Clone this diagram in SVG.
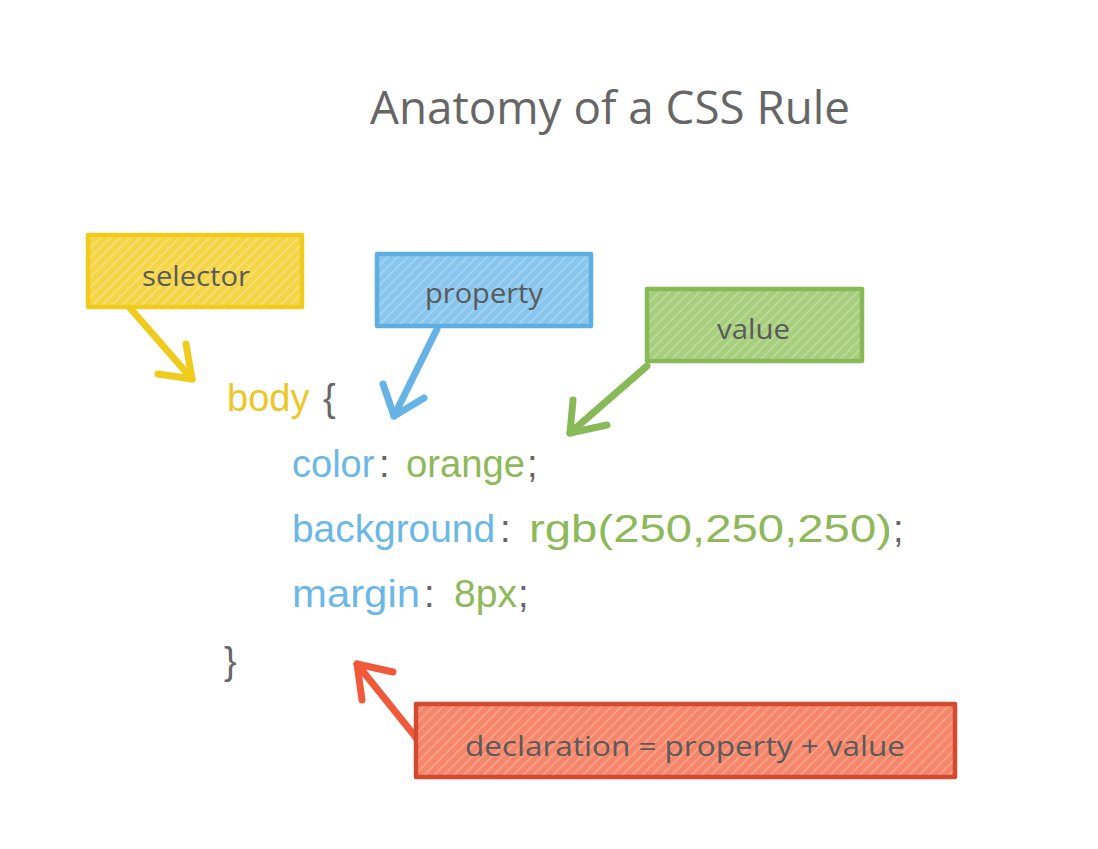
<svg xmlns="http://www.w3.org/2000/svg" width="1098" height="849" viewBox="0 0 1098 849">
<defs>
<pattern id="hy" width="7" height="7" patternUnits="userSpaceOnUse" patternTransform="rotate(45)"><rect width="7" height="7" fill="#F5D545"/><line x1="1" y1="0" x2="1" y2="7" stroke="#F8E17C" stroke-width="1.6"/></pattern>
<pattern id="hb" width="7" height="7" patternUnits="userSpaceOnUse" patternTransform="rotate(45)"><rect width="7" height="7" fill="#88C6EE"/><line x1="1" y1="0" x2="1" y2="7" stroke="#A8D6F3" stroke-width="1.6"/></pattern>
<pattern id="hg" width="7" height="7" patternUnits="userSpaceOnUse" patternTransform="rotate(45)"><rect width="7" height="7" fill="#A7CE7D"/><line x1="1" y1="0" x2="1" y2="7" stroke="#BEDC9C" stroke-width="1.6"/></pattern>
<pattern id="hr" width="7" height="7" patternUnits="userSpaceOnUse" patternTransform="rotate(45)"><rect width="7" height="7" fill="#F6866A"/><line x1="1" y1="0" x2="1" y2="7" stroke="#F9A48F" stroke-width="1.6"/></pattern>
</defs>
<style>
text{font-family:"Open Sans","Liberation Sans",sans-serif}
.lbl{font-size:27px;fill:#5a5a5a}
.code{font-size:38px;font-family:"Liberation Sans",Arial,sans-serif}
.y{fill:#EBC72A}.b{fill:#6BB7E6}.g{fill:#8DB95A}.k{fill:#666}
.box{stroke-width:4.5;stroke-linejoin:round}
.arr{fill:none;stroke-width:7;stroke-linecap:round;stroke-linejoin:round}
</style>
<rect width="1098" height="849" fill="#ffffff"/>
<text x="370" y="124" font-size="46" fill="#666" textLength="480" lengthAdjust="spacingAndGlyphs">Anatomy of a CSS Rule</text>

<g id="code">
<text class="code y" x="227" y="411">body</text>
<text class="code k" x="323" y="411">{</text>

<text class="code b" x="292" y="477">color</text>
<text class="code k" x="379" y="477">:</text>
<text class="code g" x="406" y="477" textLength="119" lengthAdjust="spacingAndGlyphs">orange</text>
<text class="code k" x="527" y="477">;</text>

<text class="code b" x="292" y="542" textLength="203" lengthAdjust="spacingAndGlyphs">background</text>
<text class="code k" x="500" y="542">:</text>
<text class="code g" x="529" y="542" textLength="363" lengthAdjust="spacingAndGlyphs">rgb(250,250,250)</text>
<text class="code k" x="893" y="542">;</text>

<text class="code b" x="292" y="607" textLength="128" lengthAdjust="spacingAndGlyphs">margin</text>
<text class="code k" x="424" y="607">:</text>
<text class="code g" x="454" y="607" textLength="63" lengthAdjust="spacingAndGlyphs">8px</text>
<text class="code k" x="518" y="607">;</text>

<text class="code k" x="224" y="674">}</text>
</g>

<g id="connectors">
<g id="arrow-selector" stroke="#EFCB1C" class="arr"><path d="M130 308 L192 379"/><path d="M186 344 L192 379 L158 374"/></g>
<g id="arrow-property" stroke="#66B4E6" class="arr"><path d="M437 329 L394 416"/><path d="M383 384 L394 416 L424 398"/></g>
<g id="arrow-value" stroke="#88B957" class="arr"><path d="M647 366 L570 433"/><path d="M573 400 L570 433 L607 425"/></g>
<g id="arrow-declaration" stroke="#F05A3A" class="arr"><path d="M418 740 L357 664"/><path d="M393 672 L357 664 L362 700"/></g>
</g>

<g id="selector">
<rect class="box" x="88" y="235" width="214" height="72" fill="url(#hy)" stroke="#EFCB1C"/>
<text class="lbl" x="142" y="286" textLength="108" lengthAdjust="spacingAndGlyphs">selector</text>
</g>
<g id="property">
<rect class="box" x="377" y="254" width="214" height="72" fill="url(#hb)" stroke="#5EAEE2"/>
<text class="lbl" x="425" y="303" textLength="118" lengthAdjust="spacingAndGlyphs">property</text>
</g>
<g id="value">
<rect class="box" x="647" y="289" width="215" height="72" fill="url(#hg)" stroke="#88B957"/>
<text class="lbl" x="717" y="339" textLength="73" lengthAdjust="spacingAndGlyphs">value</text>
</g>
<g id="declaration">
<rect class="box" x="416" y="704" width="539" height="73" fill="url(#hr)" stroke="#D24A2F"/>
<text class="lbl" x="465" y="756" textLength="440" lengthAdjust="spacingAndGlyphs">declaration = property + value</text>
</g>
</svg>
